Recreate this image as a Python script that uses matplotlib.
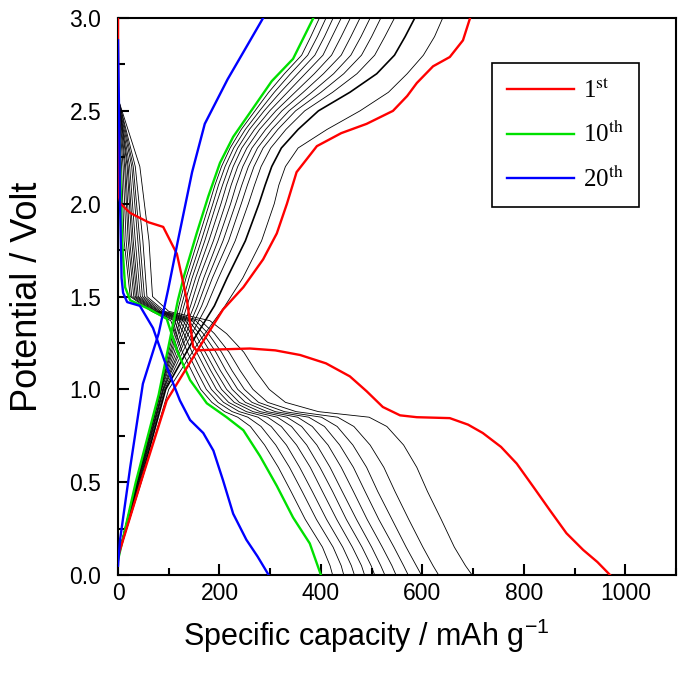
import matplotlib.pyplot as plt
from matplotlib.ticker import MultipleLocator
from matplotlib.font_manager import FontProperties

plt.rcParams['font.family'] = ['Liberation Sans', 'DejaVu Sans']
plt.rcParams['mathtext.fontset'] = 'custom'
plt.rcParams['mathtext.rm'] = 'Liberation Sans'
plt.rcParams['mathtext.default'] = 'rm'

# ---- 1st cycle (red) ----
red_dis_cap = [0, 0, 5, 24, 60, 89, 116, 136, 148, 155, 200, 260, 310, 359, 410, 457,
               490, 522, 556, 589, 654, 690, 719, 755, 786, 820, 851, 884, 917, 945, 970]
red_dis_v = [3.0, 2.06, 2.0, 1.95, 1.9, 1.875, 1.73, 1.48, 1.23, 1.21, 1.215, 1.22, 1.21, 1.185, 1.14, 1.07,
             0.99, 0.905, 0.86, 0.85, 0.845, 0.81, 0.765, 0.69, 0.6, 0.47, 0.35, 0.225, 0.135, 0.07, 0.0]
red_chg_cap = [0, 45, 96, 161, 207, 247, 286, 313, 333, 352, 392, 440, 490, 542, 570, 589, 621, 654, 680, 694]
red_chg_v = [0.1, 0.5, 0.94, 1.23, 1.43, 1.55, 1.70, 1.84, 2.0, 2.17, 2.31, 2.38, 2.43, 2.5, 2.58, 2.65,
             2.74, 2.79, 2.88, 3.0]

# ---- 10th cycle (green) ----
green_dis_cap = [0, 4, 8, 14, 24, 63, 96, 116, 142, 175, 214, 247, 280, 313, 345, 378, 400]
green_dis_v = [2.55, 2.2, 1.8, 1.55, 1.48, 1.43, 1.38, 1.21, 1.05, 0.925, 0.85, 0.78, 0.64, 0.48, 0.31, 0.17, 0.0]
green_chg_cap = [0, 35, 80, 118, 130, 155, 178, 201, 227, 260, 303, 345, 385]
green_chg_v = [0.08, 0.5, 0.97, 1.48, 1.61, 1.84, 2.04, 2.22, 2.36, 2.49, 2.66, 2.78, 3.0]

# ---- 20th cycle (blue) ----
blue_dis_cap = [0, 2, 4, 7, 10, 18, 43, 69, 96, 122, 142, 168, 188, 207, 227, 253, 275, 297]
blue_dis_v = [2.88, 2.5, 2.0, 1.6, 1.52, 1.47, 1.45, 1.33, 1.12, 0.94, 0.835, 0.765, 0.67, 0.51, 0.33, 0.19, 0.1, 0.0]
blue_chg_cap = [0, 4, 24, 49, 80, 99, 118, 146, 171, 216, 250, 286]
blue_chg_v = [0.05, 0.19, 0.58, 1.03, 1.30, 1.54, 1.8, 2.17, 2.43, 2.67, 2.83, 3.0]

# ---- other cycles (thin black), capacity read at fixed potentials ----
dis_levels = [2.55, 2.2, 1.8, 1.5, 1.42, 1.37, 1.3, 1.2, 1.1, 1.0, 0.93, 0.88, 0.85, 0.8,
              0.7, 0.58, 0.45, 0.3, 0.15, 0.05, 0.0]
black_dis_caps = [
    [2, 43, 61, 68, 100, 181, 214, 248, 271, 298, 330, 395, 495, 530, 563, 589, 610, 637, 663, 685, 698],
    [2, 34, 49, 57, 92, 163, 190, 219, 241, 266, 295, 351, 433, 465, 497, 524, 546, 573, 601, 621, 632],
    [2, 30, 43, 52, 88, 153, 178, 204, 225, 249, 277, 328, 401, 432, 463, 490, 512, 540, 568, 588, 598],
    [1, 27, 39, 48, 84, 146, 168, 193, 213, 236, 264, 310, 376, 407, 437, 464, 487, 514, 544, 563, 572],
    [1, 23, 34, 44, 81, 139, 160, 182, 202, 225, 251, 294, 354, 383, 414, 440, 464, 491, 521, 540, 548],
    [1, 20, 30, 40, 79, 133, 152, 172, 192, 214, 239, 280, 333, 362, 392, 418, 442, 470, 500, 518, 526],
    [1, 18, 27, 37, 76, 128, 144, 164, 183, 204, 229, 266, 314, 342, 372, 398, 423, 450, 481, 499, 506],
    [1, 15, 23, 34, 74, 122, 137, 155, 174, 194, 218, 253, 295, 322, 352, 379, 403, 431, 462, 480, 486],
    [0, 13, 20, 31, 71, 116, 130, 146, 164, 184, 208, 239, 276, 302, 332, 358, 383, 411, 443, 460, 466],
    [0, 10, 16, 27, 69, 111, 122, 137, 155, 174, 197, 225, 256, 282, 311, 338, 363, 391, 424, 440, 445],
    [0, 7, 12, 24, 66, 104, 114, 127, 145, 163, 185, 210, 236, 261, 289, 316, 341, 369, 403, 418, 423],
]
chg_levels = [0.1, 0.5, 1.0, 1.25, 1.45, 1.6, 1.8, 2.0, 2.1, 2.2, 2.3, 2.4, 2.5, 2.6, 2.7, 2.8, 2.9, 3.0]
black_chg_caps = [
    [0, 46, 100, 158, 211, 246, 283, 308, 317, 330, 355, 412, 477, 533, 570, 602, 624, 640],
    [0, 44, 94, 145, 190, 215, 251, 278, 290, 303, 322, 355, 395, 457, 510, 545, 566, 585],
    [0, 42, 92, 136, 175, 198, 231, 257, 269, 282, 301, 331, 368, 423, 471, 506, 526, 545],
    [0, 41, 90, 130, 165, 186, 218, 243, 255, 268, 286, 315, 350, 400, 445, 480, 500, 518],
    [0, 40, 89, 126, 157, 177, 207, 232, 244, 257, 275, 303, 337, 382, 425, 459, 479, 497],
    [0, 39, 88, 121, 150, 169, 197, 222, 233, 246, 264, 291, 323, 365, 405, 440, 459, 477],
    [0, 38, 86, 117, 143, 160, 188, 212, 223, 236, 254, 279, 311, 349, 387, 421, 440, 458],
    [0, 38, 85, 113, 136, 153, 179, 203, 214, 227, 244, 269, 299, 334, 369, 404, 422, 440],
    [0, 37, 84, 110, 130, 146, 171, 194, 206, 219, 236, 259, 288, 320, 354, 388, 407, 424],
    [0, 36, 84, 107, 125, 140, 164, 187, 198, 211, 228, 251, 279, 308, 340, 374, 393, 410],
    [0, 36, 83, 104, 120, 134, 157, 180, 191, 204, 221, 243, 270, 297, 328, 362, 380, 397],
]

fig = plt.figure(figsize=(6.85, 6.73), dpi=100)
ax = fig.add_axes([0.1723, 0.1456, 0.8146, 0.8276])

for caps in black_dis_caps:
    ax.plot(caps, dis_levels, color='black', lw=0.6, zorder=2)
for i, caps in enumerate(black_chg_caps):
    ax.plot(caps, chg_levels, color='black', lw=1.2 if i == 1 else 0.6, zorder=2)

red, = ax.plot(red_dis_cap, red_dis_v, color='#ff0000', lw=1.7, zorder=4)
ax.plot(red_chg_cap, red_chg_v, color='#ff0000', lw=1.7, zorder=4)
green, = ax.plot(green_dis_cap, green_dis_v, color='#00e000', lw=1.7, zorder=3)
ax.plot(green_chg_cap, green_chg_v, color='#00e000', lw=1.7, zorder=3)
blue, = ax.plot(blue_dis_cap, blue_dis_v, color='#0000ff', lw=1.7, zorder=5)
ax.plot(blue_chg_cap, blue_chg_v, color='#0000ff', lw=1.7, zorder=5)

ax.set_xlim(0, 1100)
ax.set_ylim(0, 3.0)
ax.xaxis.set_minor_locator(MultipleLocator(100))
ax.yaxis.set_major_locator(MultipleLocator(0.5))
ax.yaxis.set_minor_locator(MultipleLocator(0.25))
ax.set_xticks([0, 200, 400, 600, 800, 1000])
ax.yaxis.set_major_formatter(plt.FormatStrFormatter('%.1f'))
ax.tick_params(which='both', direction='in', top=False, right=False, width=1.5, labelsize=16.5)
ax.tick_params(which='major', length=8)
ax.tick_params(axis='x', which='major', pad=5)
ax.tick_params(axis='y', which='major', pad=12)
ax.tick_params(which='minor', length=5)
for sp in ax.spines.values():
    sp.set_linewidth(1.5)

ax.set_xlabel('Specific capacity / mAh g$^{-1}$', fontsize=22)
ax.xaxis.set_label_coords(0.445, -0.075)
ax.set_ylabel('Potential / Volt', fontsize=26)
ax.yaxis.set_label_coords(-0.13, 0.5)

leg = ax.legend([red, green, blue],
                [r'1$^{\mathrm{st}}$', r'10$^{\mathrm{th}}$', r'20$^{\mathrm{th}}$'],
                loc='upper left', bbox_to_anchor=(0.670, 0.919), borderaxespad=0,
                prop=FontProperties(family='Liberation Serif', size=18, math_fontfamily='stix'),
                fancybox=False, edgecolor='black', framealpha=1,
                handlelength=2.7, labelspacing=0.7, borderpad=0.6, handletextpad=0.35)
leg.get_frame().set_linewidth(1.2)

fig.savefig('out.png', dpi=100)
